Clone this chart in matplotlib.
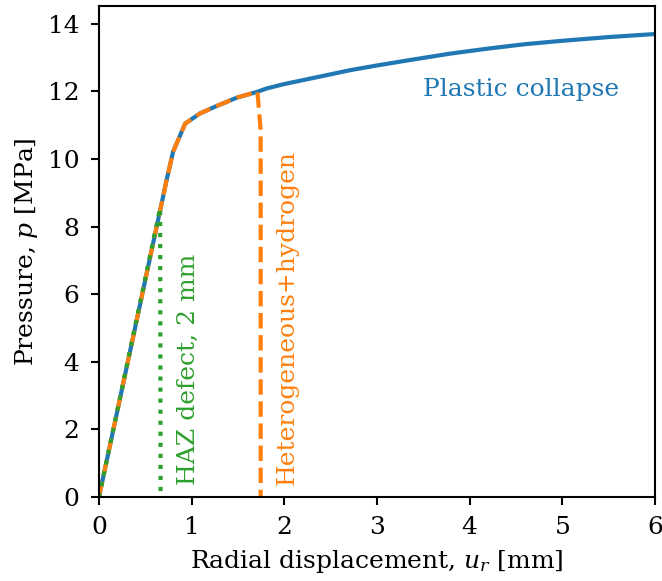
import matplotlib
matplotlib.use("Agg")
import matplotlib.pyplot as plt

plt.rcParams["font.family"] = "DejaVu Serif"
plt.rcParams["mathtext.fontset"] = "dejavuserif"

# Pressure-displacement response of the pipe (mm, MPa)
collapse_u = [0.0, 0.73, 0.80, 0.93, 1.09, 1.27, 1.49, 1.71, 1.81, 2.0, 2.4, 2.71,
              3.0, 3.4, 3.79, 4.2, 4.6, 5.0, 5.5, 6.0]
collapse_p = [0.0, 9.38, 10.22, 11.05, 11.35, 11.57, 11.82, 11.99, 12.09, 12.22,
              12.45, 12.63, 12.77, 12.95, 13.12, 13.27, 13.40, 13.50, 13.61, 13.70]

# Failure path with heterogeneous material and hydrogen
het_u = [0.0, 0.73, 0.80, 0.93, 1.09, 1.27, 1.49, 1.71, 1.745, 1.745]
het_p = [0.0, 9.38, 10.22, 11.05, 11.35, 11.57, 11.82, 11.99, 10.85, 0.0]

# Failure path with a 2 mm HAZ defect
haz_u = [0.0, 0.66, 0.665]
haz_p = [0.0, 8.55, 0.0]

fig, ax = plt.subplots(figsize=(6.62, 5.81), dpi=100)
fig.subplots_adjust(left=0.1495, right=0.9894, top=0.9897, bottom=0.1446)

ax.plot(collapse_u, collapse_p, "-", color="C0", lw=3)
ax.plot(het_u, het_p, "--", color="C1", lw=3)
ax.plot(haz_u, haz_p, ":", color="C2", lw=3)

fs = 18
ax.text(4.55, 12.05, "Plastic collapse", color="C0", fontsize=fs,
        ha="center", va="center")
ax.text(2.03, 0.35, "Heterogeneous+hydrogen", color="C1", fontsize=fs,
        rotation=90, ha="center", va="bottom")
ax.text(0.97, 0.35, "HAZ defect, 2 mm", color="C2", fontsize=fs,
        rotation=90, ha="center", va="bottom")

ax.set_xlim(0, 6)
ax.set_ylim(0, 14.53)
ax.set_xlabel(r"Radial displacement, $u_r$ [mm]", fontsize=fs, labelpad=6)
ax.set_ylabel(r"Pressure, $p$ [MPa]", fontsize=fs, labelpad=6)
ax.tick_params(labelsize=fs, width=1.5, length=6, pad=8)
for s in ax.spines.values():
    s.set_linewidth(1.5)

fig.savefig("out.png", dpi=100)
